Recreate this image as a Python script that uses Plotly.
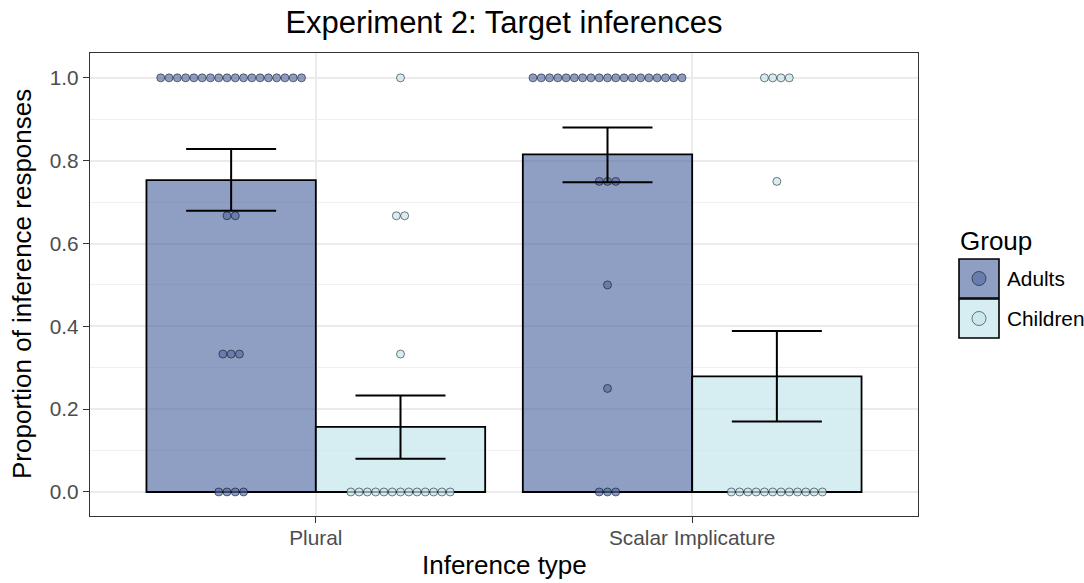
import plotly.graph_objects as go

# Inference types on the x axis and the two participant groups
categories = ["Plural", "Scalar Implicature"]
groups = ["Adults", "Children"]

# Mean proportion of inference responses per group and inference type
mean_adults = [0.753, 0.815]
mean_children = [0.157, 0.279]

# Confidence interval bounds
ci_low_adults = [0.679, 0.748]
ci_high_adults = [0.828, 0.880]
ci_low_children = [0.080, 0.170]
ci_high_children = [0.233, 0.389]

# Individual participant proportions: distinct values and how many participants had each
plural_adults_values = [1.0, 0.667, 0.333, 0.0]
plural_adults_counts = [18, 2, 3, 4]
plural_children_values = [1.0, 0.667, 0.333, 0.0]
plural_children_counts = [1, 2, 1, 13]
scalar_adults_values = [1.0, 0.75, 0.5, 0.25, 0.0]
scalar_adults_counts = [19, 3, 1, 1, 3]
scalar_children_values = [1.0, 0.75, 0.0]
scalar_children_counts = [4, 1, 12]

y_ticks = [0.0, 0.2, 0.4, 0.6, 0.8, 1.0]
y_tick_labels = ["0.0", "0.2", "0.4", "0.6", "0.8", "1.0"]

# Styling
FONT = "Liberation Sans, Arial, sans-serif"
COL_ADULTS = "rgba(83,106,163,0.65)"
COL_CHILDREN = "rgba(196,229,236,0.7)"
DOT_LINE = "rgba(0,0,0,0.5)"
DODGE = 0.225          # offset of each group's bar from the category centre
BAR_W = 0.45
DOT_STEP = 0.022       # horizontal spacing of stacked dots (data units)

x_pos = list(range(1, len(categories) + 1))
x_adults = [x - DODGE for x in x_pos]
x_children = [x + DODGE for x in x_pos]


def stacked_dots(center, values, counts):
    xs, ys = [], []
    for v, n in zip(values, counts):
        for i in range(n):
            xs.append(center + (i - (n - 1) / 2) * DOT_STEP)
            ys.append(v)
    return xs, ys


fig = go.Figure()

# Bars
fig.add_trace(go.Bar(x=x_adults, y=mean_adults, width=BAR_W, name="Adults",
                     marker=dict(color=COL_ADULTS, line=dict(color="black", width=1.8)),
                     showlegend=False))
fig.add_trace(go.Bar(x=x_children, y=mean_children, width=BAR_W, name="Children",
                     marker=dict(color=COL_CHILDREN, line=dict(color="black", width=1.8)),
                     showlegend=False))

# Participant dots
dot_sets = [
    (x_adults[0], plural_adults_values, plural_adults_counts, COL_ADULTS),
    (x_children[0], plural_children_values, plural_children_counts, COL_CHILDREN),
    (x_adults[1], scalar_adults_values, scalar_adults_counts, COL_ADULTS),
    (x_children[1], scalar_children_values, scalar_children_counts, COL_CHILDREN),
]
for cx, vals, cnts, col in dot_sets:
    xs, ys = stacked_dots(cx, vals, cnts)
    fig.add_trace(go.Scatter(x=xs, y=ys, mode="markers", showlegend=False,
                             marker=dict(size=8, color=col, line=dict(color=DOT_LINE, width=1)),
                             hoverinfo="y"))

# Error bars
for xs, means, lo, hi in [(x_adults, mean_adults, ci_low_adults, ci_high_adults),
                          (x_children, mean_children, ci_low_children, ci_high_children)]:
    fig.add_trace(go.Scatter(
        x=xs, y=means, mode="markers", showlegend=False,
        marker=dict(size=1, color="rgba(0,0,0,0)"),
        error_y=dict(type="data", symmetric=False,
                     array=[h - m for h, m in zip(hi, means)],
                     arrayminus=[m - l for m, l in zip(means, lo)],
                     color="black", thickness=2, width=45)))

# Panel placement in pixels, used for the legend and titles
L, R, T, B = 90, 918, 53, 516
W, H = R - L, B - T


def px(x):
    return (x - L) / W


def py(y):
    return (B - y) / H


shapes = []
annotations = []

# Legend drawn as keyed boxes
key_rows = [("Adults", COL_ADULTS, 259, 298), ("Children", COL_CHILDREN, 299, 338)]
for label, col, top, bot in key_rows:
    shapes.append(dict(type="rect", xref="paper", yref="paper",
                       x0=px(959), x1=px(999), y0=py(bot), y1=py(top),
                       fillcolor=col, line=dict(color="black", width=1.6)))
    cy = (top + bot) / 2
    shapes.append(dict(type="circle", xref="paper", yref="paper",
                       x0=px(972), x1=px(986), y0=py(cy + 7), y1=py(cy - 7),
                       fillcolor=col, line=dict(color=DOT_LINE, width=1)))
    annotations.append(dict(text=label, xref="paper", yref="paper",
                            x=px(1005), y=py(cy), xanchor="left", yanchor="middle",
                            showarrow=False, font=dict(family=FONT, size=20.8, color="black")))
annotations.append(dict(text="Group", xref="paper", yref="paper",
                        x=px(958), y=py(241), xanchor="left", yanchor="middle",
                        showarrow=False, font=dict(family=FONT, size=26, color="black")))

# Axis titles
annotations.append(dict(text="Inference type", xref="paper", yref="paper",
                        x=px(504), y=py(565), xanchor="center", yanchor="middle",
                        showarrow=False, font=dict(family=FONT, size=26, color="black")))
annotations.append(dict(text="Proportion of inference responses", xref="paper", yref="paper",
                        x=px(22), y=py(284), xanchor="center", yanchor="middle",
                        textangle=-90, showarrow=False,
                        font=dict(family=FONT, size=26, color="black")))

fig.update_layout(
    width=1084, height=583,
    margin=dict(l=L, r=1084 - R, t=T, b=583 - B),
    paper_bgcolor="white", plot_bgcolor="white",
    barmode="overlay",
    title=dict(text="Experiment 2: Target inferences", x=px(504), xref="paper",
               xanchor="center", y=1 - 22 / 583, yanchor="middle",
               font=dict(family=FONT, size=31, color="black")),
    shapes=shapes, annotations=annotations,
    font=dict(family=FONT),
)

fig.update_xaxes(
    range=[0.4, 2.6], tickvals=x_pos, ticktext=categories,
    showgrid=True, gridcolor="#EBEBEB", gridwidth=1.6,
    showline=True, mirror=True, linecolor="#333333", linewidth=1.3,
    ticks="outside", ticklen=6, tickcolor="#333333", tickwidth=1.2,
    ticklabelstandoff=-3,
    tickfont=dict(family=FONT, size=20.8, color="#4D4D4D"),
    zeroline=False,
)
fig.update_yaxes(
    range=[-0.058, 1.06], tickvals=y_ticks, ticktext=y_tick_labels,
    showgrid=True, gridcolor="#EBEBEB", gridwidth=1.6,
    minor=dict(dtick=0.1, tick0=0, showgrid=True, gridcolor="#F0F0F0", gridwidth=1),
    showline=True, mirror=True, linecolor="#333333", linewidth=1.3,
    ticks="outside", ticklen=6, tickcolor="#333333", tickwidth=1.2,
    tickfont=dict(family=FONT, size=20.8, color="#4D4D4D"),
    zeroline=False,
)

fig.write_html("out.html")
